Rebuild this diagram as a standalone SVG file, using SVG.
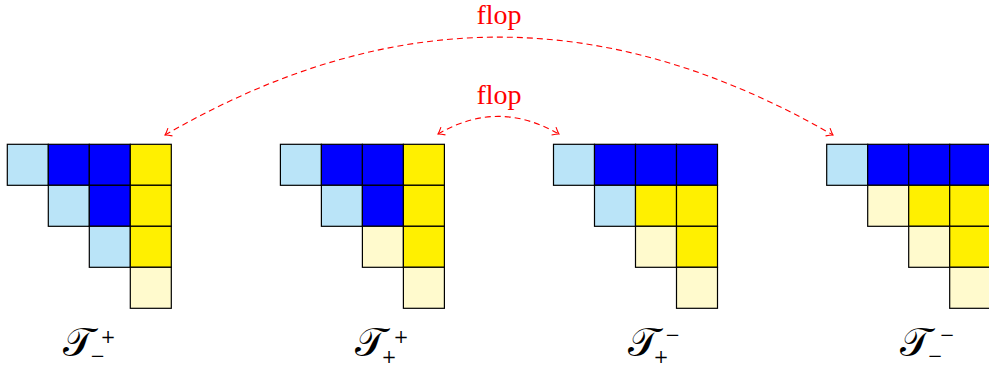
<svg xmlns="http://www.w3.org/2000/svg" width="989" height="368" viewBox="0 0 989 368">
<style>
.c{stroke:#000;stroke-width:1.2}
.lb{fill:#BAE4F8}
.b{fill:#0000FF}
.y{fill:#FFF000}
.ly{fill:#FFFACD}
.arc{fill:none;stroke:#FF0000;stroke-width:1.1;stroke-dasharray:6,4}
.flop{font-family:"Liberation Serif",serif;font-size:28px;fill:#FF0000;text-anchor:middle}
.lab{font-family:"DejaVu Serif","Liberation Serif",serif;fill:#000}
.t{font-size:40px}
.s{font-size:18px;text-anchor:middle}
</style>
<defs>
<marker id="ah" viewBox="-8 -6 10 12" markerWidth="10" markerHeight="12" refX="0" refY="0" orient="auto-start-reverse" markerUnits="userSpaceOnUse">
<path d="M-6,-4.5 Q-2,-1 0,0 Q-2,1 -6,4.5" fill="none" stroke="#FF0000" stroke-width="1.1"/>
</marker>
</defs>
<g id="grid1" transform="translate(7.3,144.3)">
<rect class="c lb" x="0" y="0" width="41" height="41"/>
<rect class="c b" x="41" y="0" width="41" height="41"/>
<rect class="c b" x="82" y="0" width="41" height="41"/>
<rect class="c y" x="123" y="0" width="41" height="41"/>
<rect class="c lb" x="41" y="41" width="41" height="41"/>
<rect class="c b" x="82" y="41" width="41" height="41"/>
<rect class="c y" x="123" y="41" width="41" height="41"/>
<rect class="c lb" x="82" y="82" width="41" height="41"/>
<rect class="c y" x="123" y="82" width="41" height="41"/>
<rect class="c ly" x="123" y="123" width="41" height="41"/>
</g>
<g id="grid2" transform="translate(280.4,144.3)">
<rect class="c lb" x="0" y="0" width="41" height="41"/>
<rect class="c b" x="41" y="0" width="41" height="41"/>
<rect class="c b" x="82" y="0" width="41" height="41"/>
<rect class="c y" x="123" y="0" width="41" height="41"/>
<rect class="c lb" x="41" y="41" width="41" height="41"/>
<rect class="c b" x="82" y="41" width="41" height="41"/>
<rect class="c y" x="123" y="41" width="41" height="41"/>
<rect class="c ly" x="82" y="82" width="41" height="41"/>
<rect class="c y" x="123" y="82" width="41" height="41"/>
<rect class="c ly" x="123" y="123" width="41" height="41"/>
</g>
<g id="grid3" transform="translate(553.5,144.3)">
<rect class="c lb" x="0" y="0" width="41" height="41"/>
<rect class="c b" x="41" y="0" width="41" height="41"/>
<rect class="c b" x="82" y="0" width="41" height="41"/>
<rect class="c b" x="123" y="0" width="41" height="41"/>
<rect class="c lb" x="41" y="41" width="41" height="41"/>
<rect class="c y" x="82" y="41" width="41" height="41"/>
<rect class="c y" x="123" y="41" width="41" height="41"/>
<rect class="c ly" x="82" y="82" width="41" height="41"/>
<rect class="c y" x="123" y="82" width="41" height="41"/>
<rect class="c ly" x="123" y="123" width="41" height="41"/>
</g>
<g id="grid4" transform="translate(826.7,144.3)">
<rect class="c lb" x="0" y="0" width="41" height="41"/>
<rect class="c b" x="41" y="0" width="41" height="41"/>
<rect class="c b" x="82" y="0" width="41" height="41"/>
<rect class="c b" x="123" y="0" width="41" height="41"/>
<rect class="c ly" x="41" y="41" width="41" height="41"/>
<rect class="c y" x="82" y="41" width="41" height="41"/>
<rect class="c y" x="123" y="41" width="41" height="41"/>
<rect class="c ly" x="82" y="82" width="41" height="41"/>
<rect class="c y" x="123" y="82" width="41" height="41"/>
<rect class="c ly" x="123" y="123" width="41" height="41"/>
</g>
<g id="label1" class="lab">
<text class="t" x="63" y="356">𝒯</text>
<text class="s" x="108" y="343">+</text>
<text class="s" x="97.5" y="362">−</text>
</g>
<g id="label2" class="lab">
<text class="t" x="355" y="356">𝒯</text>
<text class="s" x="401" y="343">+</text>
<text class="s" x="389" y="363">+</text>
</g>
<g id="label3" class="lab">
<text class="t" x="628" y="356">𝒯</text>
<text class="s" x="672.5" y="341">−</text>
<text class="s" x="661" y="363">+</text>
</g>
<g id="label4" class="lab">
<text class="t" x="900" y="356">𝒯</text>
<text class="s" x="947" y="341">−</text>
<text class="s" x="935" y="362">−</text>
</g>
<g id="connectors">
<path class="arc" d="M165,135 C391,4.5 606,4.5 833,135" marker-start="url(#ah)" marker-end="url(#ah)"/>
<path class="arc" d="M438,134 C478.7,110.5 517.3,110.5 559,134" marker-start="url(#ah)" marker-end="url(#ah)"/>
<text class="flop" x="499" y="24">flop</text>
<text class="flop" x="499" y="104">flop</text>
</g>
</svg>
